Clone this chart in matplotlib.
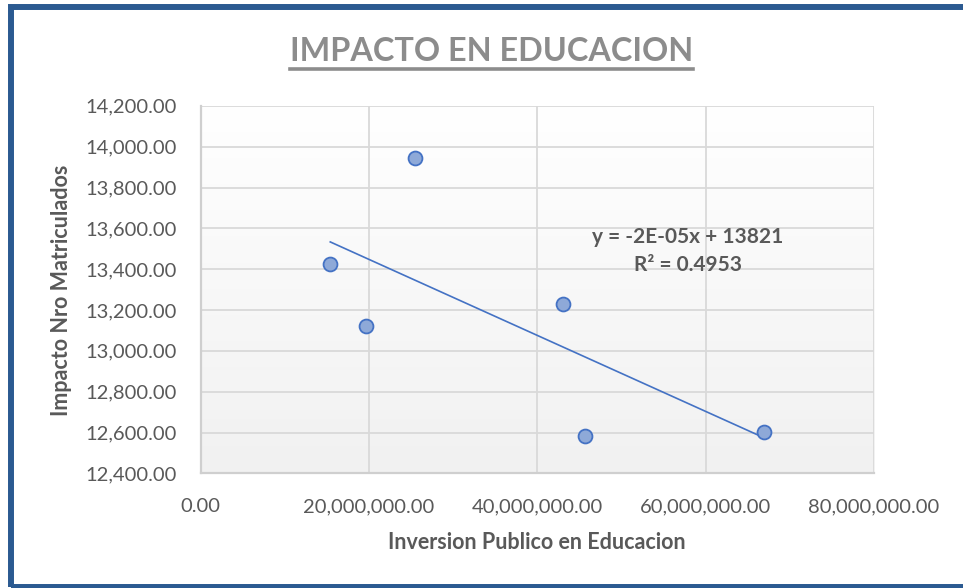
import numpy as np
import matplotlib
matplotlib.use("Agg")
from matplotlib import pyplot as plt
from matplotlib.lines import Line2D
from matplotlib.patches import Rectangle
from matplotlib.ticker import FuncFormatter

# data
inversion = [15.4e6, 19.6e6, 25.5e6, 43.0e6, 45.7e6, 66.9e6]
matriculados = [13425, 13120, 13943, 13227, 12581, 12603]
x_ticks = [0, 20e6, 40e6, 60e6, 80e6]
y_ticks = [12400, 12600, 12800, 13000, 13200, 13400, 13600, 13800, 14000, 14200]
title = "IMPACTO EN EDUCACION"
x_label = "Inversion Publico en Educacion"
y_label = "Impacto Nro Matriculados"
eq_text = "y = -2E-05x + 13821"
r2_text = "R² = 0.4953"

plt.rcParams["font.family"] = ["Lato", "DejaVu Sans"]
text_gray = "#595959"
grid_gray = "#d9d9d9"
blue = "#4472C4"

fig = plt.figure(figsize=(9.63, 5.88), dpi=100)
ax = fig.add_axes([0.2084, 0.195, 0.699, 0.625])

# plot area gradient (white to light gray)
grad = np.linspace(1.0, 0.945, 256).reshape(-1, 1)
ax.imshow(np.dstack([grad, grad, grad]), extent=[0, 1, 0, 1], transform=ax.transAxes,
          aspect="auto", zorder=0, origin="upper")

# linear trendline over the data range
slope, intercept = np.polyfit(inversion, matriculados, 1)
xs = np.array([min(inversion), max(inversion)])
ax.plot(xs, slope * xs + intercept, color=blue, lw=1.2, zorder=3)

ax.plot(inversion, matriculados, "o", ms=10, mfc="#8EA9D8", mec=blue, mew=1.3,
        zorder=4, clip_on=False)

ax.set_xlim(0, 80e6)
ax.set_ylim(12400, 14200)
ax.set_xticks(x_ticks)
ax.set_yticks(y_ticks)
ax.xaxis.set_major_formatter(FuncFormatter(lambda v, p: f"{v:,.2f}"))
ax.yaxis.set_major_formatter(FuncFormatter(lambda v, p: f"{v:,.2f}"))
ax.tick_params(axis="both", length=0, labelsize=14.5, labelcolor=text_gray)
ax.tick_params(axis="y", pad=17)
ax.tick_params(axis="x", pad=18)
ax.grid(True, color=grid_gray, lw=1.3, zorder=1)
ax.set_axisbelow(True)
for side in ["top", "right"]:
    ax.spines[side].set_visible(False)
for side in ["left", "bottom"]:
    ax.spines[side].set_color("#cfcfcf")
    ax.spines[side].set_linewidth(1.6)

fig.text(0.557, 0.078, x_label, ha="center", va="center", fontsize=15.5,
         fontweight="bold", color=text_gray)
fig.text(0.064, 0.507, y_label, ha="center", va="center", rotation=90, fontsize=15.5,
         fontweight="bold", color=text_gray)

ax.text(0.724, 0.644, eq_text, transform=ax.transAxes, ha="center", va="center",
        fontsize=15, fontweight="bold", color=text_gray, zorder=5)
ax.text(0.724, 0.567, r2_text, transform=ax.transAxes, ha="center", va="center",
        fontsize=15, fontweight="bold", color=text_gray, zorder=5)

t = fig.text(0.51, 0.913, title, ha="center", va="center", fontsize=23.3,
             fontweight="bold", color="#8c8c8c")

# underline the title
fig.canvas.draw()
bb = t.get_window_extent().transformed(fig.transFigure.inverted())
fig.add_artist(Line2D([bb.x0, bb.x1], [1 - 68.5 / 588] * 2, transform=fig.transFigure,
                      color="#8c8c8c", lw=2.6))

# blue frame around the chart (open to the right edge)
fig.add_artist(Rectangle((11 / 963, 1 - 587 / 588), 1.0, 580 / 588,
                         transform=fig.transFigure, fill=False, ec="#2B5A91", lw=4.3))

fig.savefig("out.png", dpi=100)
